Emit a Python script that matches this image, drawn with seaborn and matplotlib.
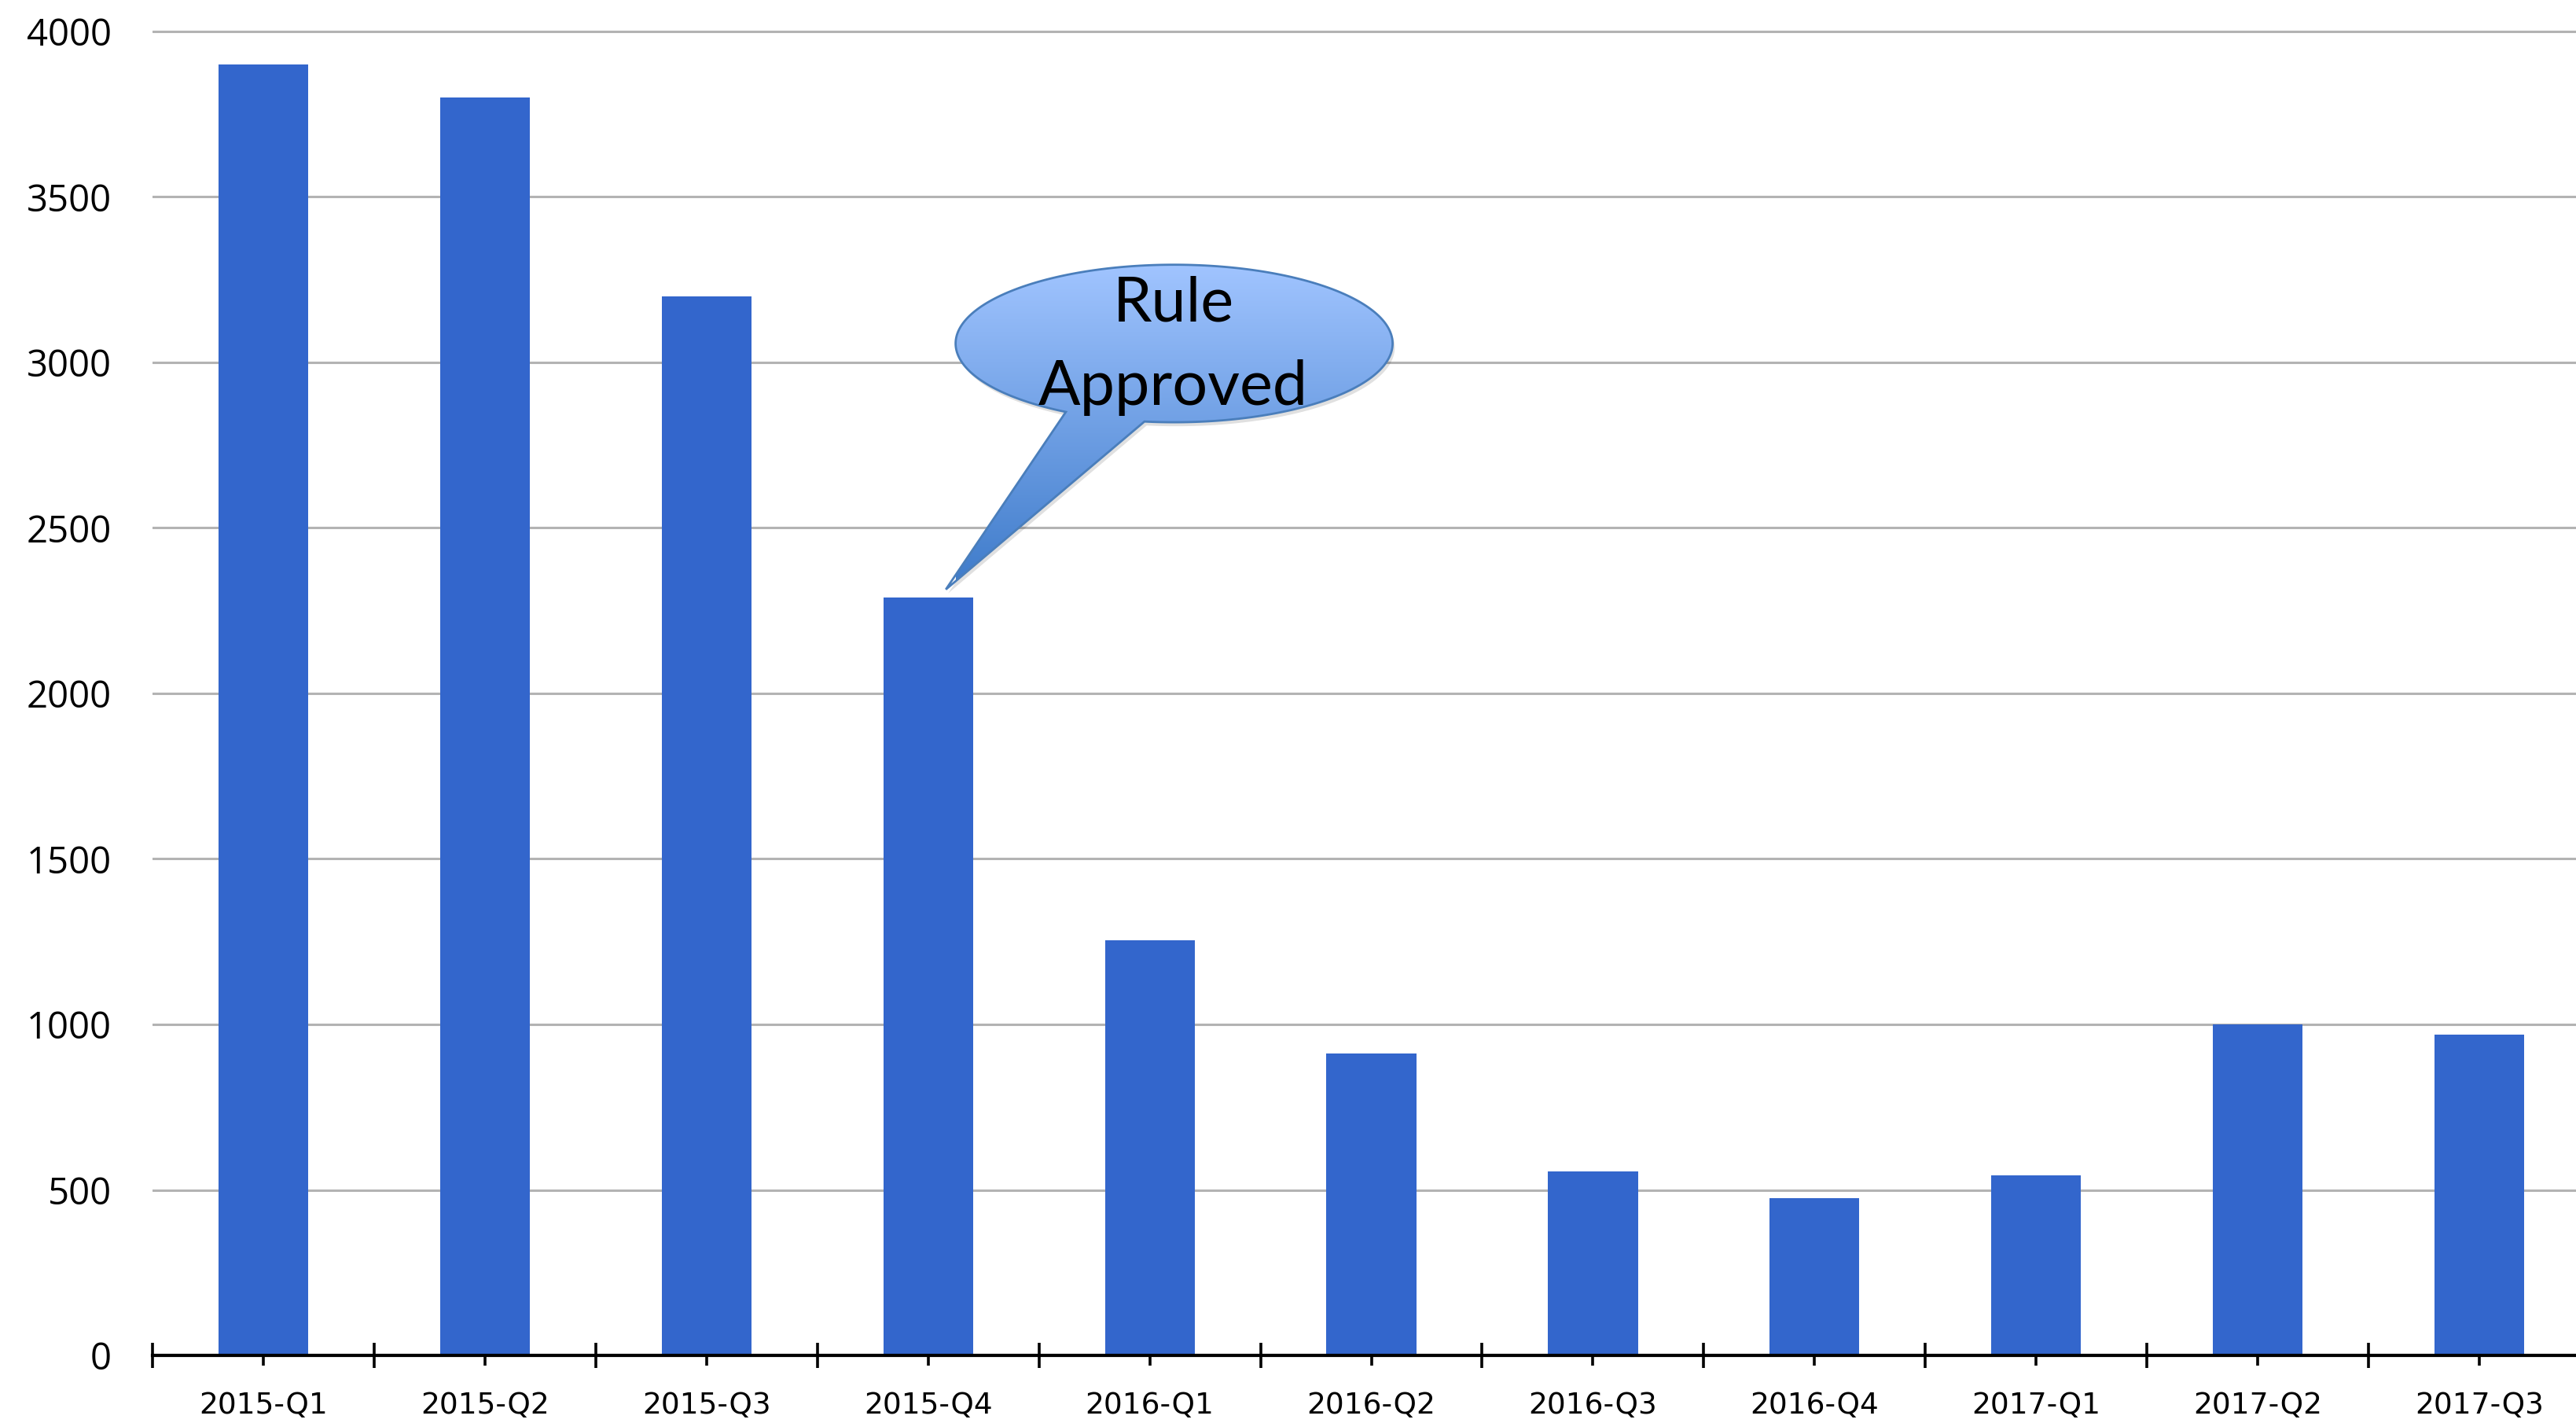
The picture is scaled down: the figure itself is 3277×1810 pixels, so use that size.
import numpy as np
import matplotlib
matplotlib.use("Agg")
import matplotlib.pyplot as plt
import seaborn as sns
import pandas as pd
from matplotlib.path import Path
from matplotlib.patches import PathPatch

# ---- data ----
quarters = ["2015-Q1", "2015-Q2", "2015-Q3", "2015-Q4", "2016-Q1", "2016-Q2",
            "2016-Q3", "2016-Q4", "2017-Q1", "2017-Q2", "2017-Q3"]
counts = [3900, 3800, 3200, 2290, 1255, 912, 555, 476, 545, 1000, 970]
y_ticks = [0, 500, 1000, 1500, 2000, 2500, 3000, 3500, 4000]
callout_lines = ["Rule", "Approved"]

sns.set_theme(style="white")
plt.rcParams["font.family"] = ["DejaVu Sans"]

fig = plt.figure(figsize=(3277 / 200, 1810 / 200), dpi=200)
ax = fig.add_axes([0.0592, 0.0475, 0.9463, 0.9421])

df = pd.DataFrame({"quarter": quarters, "count": counts})
sns.barplot(data=df, x="quarter", y="count", color="#3366CC", saturation=1,
            width=0.405, linewidth=0, ax=ax, zorder=3)

ax.set_xlim(-0.5, 10.5)
ax.set_ylim(0, 4050)
ax.set_yticks(y_ticks)
ax.set_yticklabels([str(v) for v in y_ticks])
ax.yaxis.grid(True, color="#b3b3b3", linewidth=1.1)
ax.xaxis.grid(False)
ax.set_axisbelow(True)
for s in ["top", "right", "left"]:
    ax.spines[s].set_visible(False)
ax.spines["bottom"].set_color("black")
ax.spines["bottom"].set_linewidth(1.5)
ax.spines["bottom"].set_zorder(4)

ax.set_xlabel("")
ax.set_ylabel("")
ax.tick_params(axis="y", left=False, length=0, pad=18.7, labelsize=17, labelcolor="black")
ax.set_xticks(np.arange(-0.5, 11, 1), minor=True)
ax.tick_params(axis="x", which="major", bottom=True, direction="inout", length=9,
               width=1.3, color="black", pad=12, labelsize=13.5, labelcolor="black")
ax.tick_params(axis="x", which="minor", bottom=True, direction="inout", length=11.5,
               width=1.3, color="black")
for lbl in ax.get_yticklabels():
    lbl.set_fontfamily("Open Sans")

# ---- callout bubble ----
cx, cy, a, b = 4.11, 3057, 0.986, 238
tip = (3.08, 2314)
t = np.deg2rad(np.linspace(262.2, 600.3, 300))
verts = [(cx + a * np.cos(tt), cy + b * np.sin(tt)) for tt in t]
verts.append(tip)
verts.append(verts[0])
codes = [Path.MOVETO] + [Path.LINETO] * (len(verts) - 2) + [Path.CLOSEPOLY]
path = Path(verts, codes)

# soft shadow
shadow = PathPatch(Path([(x + 0.01, y - 12) for x, y in verts], codes),
                   facecolor="#000000", alpha=0.12, edgecolor="none", zorder=4)
ax.add_patch(shadow)

patch = PathPatch(path, facecolor="none", edgecolor="#4a7ebb", linewidth=1.0, zorder=6)
ax.add_patch(patch)

top_c = np.array([0.63, 0.77, 1.0])
bot_c = np.array([0.24, 0.48, 0.79])
n = 256
frac = np.linspace(0, 1, n)[:, None]
grad = (bot_c[None, :] * (1 - frac) + top_c[None, :] * frac)[:, None, :]
im = ax.imshow(grad, extent=(cx - a, cx + a, tip[1], cy + b), origin="lower",
               aspect="auto", zorder=5, interpolation="bilinear")
im.set_clip_path(patch)

ax.text(4.107, 3176, callout_lines[0], ha="center", va="center", fontsize=28.5,
        family="Lato", color="black", zorder=7)
ax.text(4.107, 2924, callout_lines[1], ha="center", va="center", fontsize=28.5,
        family="Lato", color="black", zorder=7)

ax.set_xlim(-0.5, 10.5)
ax.set_ylim(0, 4050)

fig.savefig("out.png", dpi=200, facecolor="white")
